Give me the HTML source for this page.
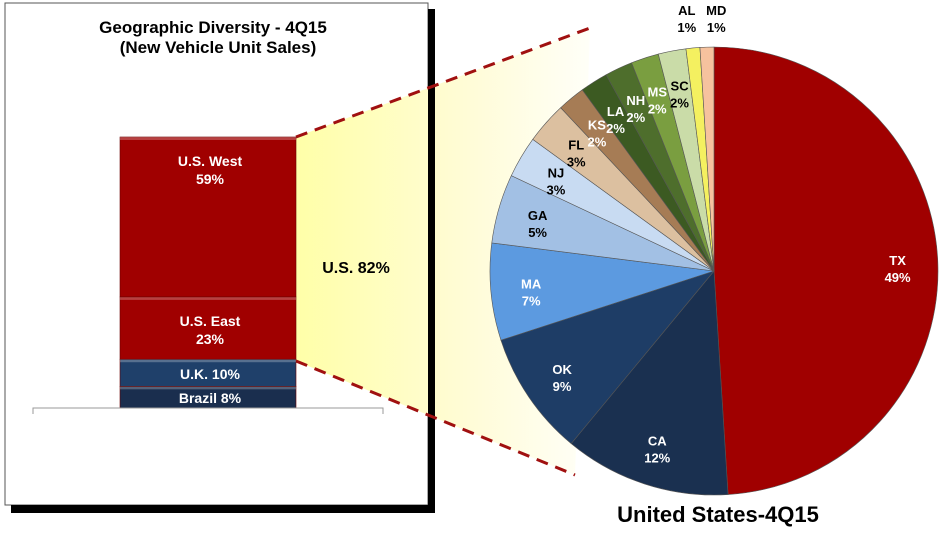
<!DOCTYPE html>
<html><head><meta charset="utf-8"><style>
body{margin:0;background:#fff;width:941px;height:534px;overflow:hidden;font-family:"Liberation Sans",sans-serif}
svg{display:block}
</style></head><body>
<svg id="chart" width="941" height="534" viewBox="0 0 941 534">
<defs>
<linearGradient id="yel" x1="0" x2="1" y1="0" y2="0"><stop offset="0" stop-color="#ffffa8"/><stop offset="0.6" stop-color="#fffcd8"/><stop offset="1" stop-color="#fffff8"/></linearGradient>
</defs>
<rect x="5" y="3" width="423" height="502" fill="#fff" stroke="#555" stroke-width="1"/>
<polygon points="296,137 590,28 575,475 296,361" fill="url(#yel)"/>
<rect x="428" y="9" width="7" height="504" fill="#000"/>
<rect x="11" y="505" width="424" height="8" fill="#000"/>
<text x="213" y="33" text-anchor="middle" font-size="17" font-weight="bold">Geographic Diversity - 4Q15</text>
<text x="218" y="53" text-anchor="middle" font-size="17" font-weight="bold">(New Vehicle Unit Sales)</text>
<line x1="296" y1="137" x2="590" y2="28" stroke="#a01010" stroke-width="3" stroke-dasharray="12,8"/>
<line x1="296" y1="361" x2="575" y2="475" stroke="#a01010" stroke-width="3" stroke-dasharray="12,8"/>
<text x="356" y="273" text-anchor="middle" font-size="16" font-weight="bold">U.S. 82%</text>
<g id="bars"></g>
<path d="M33,414 V408 H383 V414" fill="none" stroke="#999" stroke-width="1"/>
<g id="pie"></g>
<text x="718" y="522" text-anchor="middle" font-size="22" font-weight="bold">United States-4Q15</text>
</svg>
<script>
const barCats=["Brazil","U.K.","U.S. East","U.S. West"];
const barVals=[8,10,23,59];
const barLabels=[["Brazil 8%"],["U.K. 10%"],["U.S. East","23%"],["U.S. West","59%"]];
const barColors=["#1a2e4e","#1f406a","#a00000","#a00000"];

const pieCats=["TX","CA","OK","MA","GA","NJ","FL","KS","LA","NH","MS","SC","AL","MD"];
const pieVals=[49,12,9,7,5,3,3,2,2,2,2,2,1,1];
const pieColors=["#a00000","#1a3050","#1e3d66","#5c9ae0","#a2c0e4","#c8dbf2","#dcc0a0","#a67c55","#3c5a22","#4e6e2c","#7a9e40","#cadca8","#f4f060","#f6c29e"];
const pieText=["#fff","#fff","#fff","#fff","#000","#000","#000","#fff","#fff","#fff","#fff","#000","#000","#000"];

const NS="http://www.w3.org/2000/svg";
function mk(t,a){const e=document.createElementNS(NS,t);for(const k in a)e.setAttribute(k,a[k]);return e;}
const bx=120,bw=176,baseY=408,pxPer=2.71;
function ys(v){return baseY-v*pxPer;}
const bg=document.getElementById('bars');
let cum=0;
barVals.forEach((v,i)=>{
  const y1=ys(cum+v),y0=ys(cum);
  const r=mk('rect',{x:bx,y:y1,width:bw,height:y0-y1,fill:barColors[i],stroke:"#6a0000","stroke-width":0.6});
  
  
  bg.appendChild(r);
  const hl=mk('rect',{x:bx,y:y1,width:bw,height:3,fill:"#fff",opacity:0.25});
  
  
  bg.appendChild(hl);
  const lines=barLabels[i];
  const top= lines.length>1 ? y1+29 : (y1+y0)/2+6;
  lines.forEach((s,j)=>{
    const t=mk('text',{x:bx+bw/2+2,y:top+j*18,"text-anchor":"middle","font-size":14,"font-weight":"bold",fill:"#fff"});
    t.textContent=s;
    
    
    bg.appendChild(t);
  });
  cum+=v;
});
const cx=714,cy=271,R=224;
const total=pieVals.reduce((a,b)=>a+b,0);
const pg=document.getElementById('pie');
function pt(frac,rr){const a=frac*2*Math.PI;return [cx+rr*Math.sin(a),cy-rr*Math.cos(a)];}
let acc=0;
pieVals.forEach((v,i)=>{
  const f0=acc/total,f1=(acc+v)/total;
  const p0=pt(f0,R),p1=pt(f1,R);
  const large=(f1-f0)>0.5?1:0;
  const p=mk('path',{d:`M${cx},${cy} L${p0[0]},${p0[1]} A${R},${R} 0 ${large} 1 ${p1[0]},${p1[1]} Z`,fill:pieColors[i],stroke:"#555","stroke-width":0.6});
  
  
  pg.appendChild(p);
  const fm=(f0+f1)/2;
  const outside=v<=1;
  const lp=pt(fm,outside?R*1.1:R*0.82);
  let lx=lp[0],ly=lp[1];
  if(outside){lx+= (pieCats[i]==="AL"?-4:10);ly=15;}
  const t1=mk('text',{x:lx,y:ly,"text-anchor":"middle","font-size":13,"font-weight":"bold",fill:outside?"#000":pieText[i]});
  t1.textContent=pieCats[i];
  
  
  pg.appendChild(t1);
  const t2=mk('text',{x:lx,y:ly+17,"text-anchor":"middle","font-size":13,"font-weight":"bold",fill:outside?"#000":pieText[i]});
  t2.textContent=v+"%";
  
  
  pg.appendChild(t2);
  acc+=v;
});
</script>
</body></html>
